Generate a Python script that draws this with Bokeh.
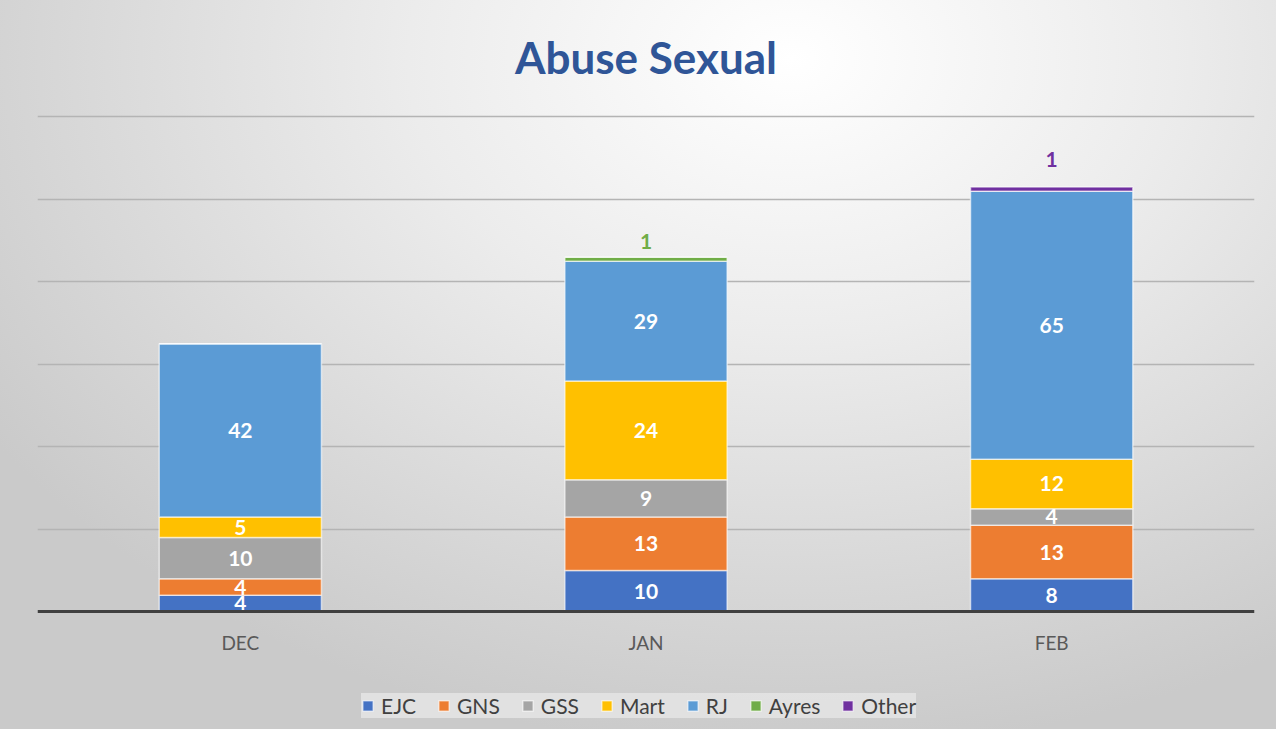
from bokeh.plotting import figure
from bokeh.models import ColumnDataSource, FactorRange, Range1d, FixedTicker, Legend, LegendItem
from bokeh.core.properties import value
from bokeh.embed import file_html
from bokeh.resources import INLINE

# ---- data ----
months = ["DEC", "JAN", "FEB"]
series = ["EJC", "GNS", "GSS", "Mart", "RJ", "Ayres", "Other"]
ejc = [4, 10, 8]
gns = [4, 13, 13]
gss = [10, 9, 4]
mart = [5, 24, 12]
rj = [42, 29, 65]
ayres = [0, 1, 0]
other = [0, 0, 1]
grid_values = [0, 20, 40, 60, 80, 100, 120]
title_text = "Abuse Sexual"

colors = ["#4472C4", "#ED7D31", "#A5A5A5", "#FFC000", "#5B9BD5", "#70AD47", "#7030A0"]
inside_series = ["EJC", "GNS", "GSS", "Mart", "RJ"]
outside_series = ["Ayres", "Other"]
outside_offsets = [-16, -28]
FONT = "Lato"

data = {"month": months, "EJC": ejc, "GNS": gns, "GSS": gss, "Mart": mart,
        "RJ": rj, "Ayres": ayres, "Other": other}
source = ColumnDataSource(data)

# frame covers the whole chart height (title and legend sit inside it)
p = figure(x_range=FactorRange(*months, range_padding=0), y_range=Range1d(-28.54, 146.3),
           frame_width=1217, frame_height=721, output_backend="svg", toolbar_location=None,
           min_border_left=37, min_border_right=22, min_border_top=8, min_border_bottom=0)

p.background_fill_color = None
p.border_fill_color = None
p.outline_line_color = None
p.styles = {"background": "radial-gradient(ellipse 75% 95% at 62% 8%, #ffffff 0%, #ececec 40%, #d8d8d8 75%, #cacaca 100%)"}

renderers = p.vbar_stack(series, x="month", width=0.4, source=source, color=colors,
                         line_color="white", line_alpha=0.6, line_width=1.5)

# labels inside
lab_x, lab_y, lab_t = [], [], []
for i, m in enumerate(months):
    base = 0
    for s in inside_series:
        v = data[s][i]
        if v > 0:
            lab_x.append(m); lab_y.append(base + v / 2); lab_t.append(str(v))
        base += v
p.text(x=lab_x, y=lab_y, text=lab_t, text_align="center", text_baseline="middle",
       text_color="white", text_font=value(FONT), text_font_style="bold", text_font_size="21px")

# labels above for small series
for s, c, off in zip(outside_series, colors[5:], outside_offsets):
    ox, oy, ot = [], [], []
    for i, m in enumerate(months):
        v = data[s][i]
        total = sum(data[k][i] for k in series)
        if v > 0:
            ox.append(m); oy.append(total); ot.append(str(v))
    p.text(x=ox, y=oy, text=ot, text_align="center", text_baseline="middle", y_offset=off,
           text_color=c, text_font=value(FONT), text_font_style="bold", text_font_size="21px")

# axes & grid
p.yaxis.visible = False
p.xaxis.fixed_location = 0
p.xaxis.axis_line_color = "#404040"
p.xaxis.axis_line_width = 3
p.xaxis.major_tick_line_color = None
p.xaxis.minor_tick_line_color = None
p.xaxis.major_label_text_font = FONT
p.xaxis.major_label_text_font_size = "19px"
p.xaxis.major_label_text_color = "#595959"
p.xaxis.major_label_standoff = 13
p.xgrid.grid_line_color = None
p.ygrid.ticker = FixedTicker(ticks=grid_values[1:])
p.ygrid.grid_line_color = "#b4b4b4"
p.ygrid.grid_line_width = 1.5

# title, centred above the top gridline
p.text(x=[months[1]], y=[max(grid_values)], text=[title_text], y_offset=-60,
       text_align="center", text_baseline="middle", text_font=value(FONT),
       text_font_style="bold", text_font_size="44px", text_color="#2F5597")

# legend
items = [LegendItem(label=s, renderers=[r]) for s, r in zip(series, renderers)]
legend = Legend(items=items, orientation="horizontal", location=(324, 11),
                label_text_font=FONT, label_text_font_size="21px", label_text_color="#404040",
                label_height=24, glyph_width=13, glyph_height=13, label_standoff=7, spacing=21,
                padding=14, margin=0, background_fill_color="#e6e6e6", background_fill_alpha=0.8,
                border_line_color=None)
p.add_layout(legend, "center")

open("out.html", "w").write(file_html(p, INLINE))
